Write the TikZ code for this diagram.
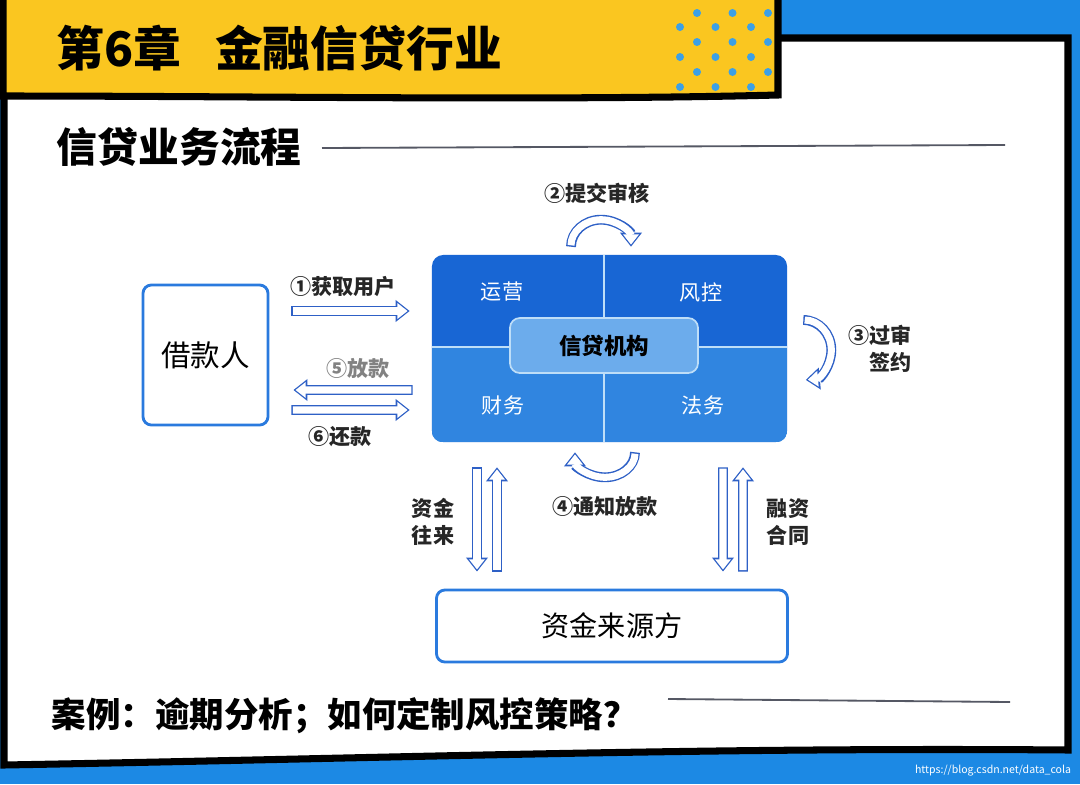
\documentclass[tikz,border=0pt]{standalone}
\usepackage{fontspec}
\setmainfont{Noto Sans CJK SC}
\usetikzlibrary{arrows.meta,positioning,calc}
\definecolor{bgblue}{RGB}{28,137,228}
\definecolor{hdryellow}{RGB}{250,198,32}
\definecolor{dotblue}{RGB}{60,160,230}
\definecolor{topblue}{RGB}{24,102,212}
\definecolor{botblue}{RGB}{48,133,224}
\definecolor{midblue}{RGB}{108,172,236}
\definecolor{midline}{RGB}{190,222,248}
\definecolor{boxblue}{RGB}{42,122,222}
\definecolor{arrowblue}{RGB}{46,96,198}
\definecolor{labelgray}{RGB}{130,130,130}
\definecolor{rulegray}{RGB}{85,88,100}
\begin{document}
\begin{tikzpicture}[x=0.025cm,y=-0.025cm]
	\tikzstyle{box}=[draw=boxblue, line width=2pt, fill=white, rounded corners=6pt]
	\tikzstyle{lbl}=[font=\bfseries\fontsize{15}{19}\selectfont, text=black!85]
	\tikzstyle{quad}=[font=\fontsize{15}{18}\selectfont, text=white]
	\tikzstyle{hollow}=[draw=arrowblue, line width=7pt, -{Triangle[length=10pt,width=15pt]}, postaction={draw=white, line width=5pt, -{Triangle[length=7.2pt,width=10.8pt]}, shorten >=1.5pt, shorten <=1pt}]

	\useasboundingbox (0,0) rectangle (1080,784);
	\fill[bgblue] (0,0) rectangle (1080,784);
	\filldraw[fill=white, draw=black, line width=5pt] (4,90) -- (4,765) .. controls (400,758) and (700,747) .. (1068,750) -- (1068,38) -- (770,38) -- (770,90) -- cycle;
	\filldraw[fill=hdryellow, draw=black, line width=5pt] (3,-10) -- (778,-10) -- (778,95) .. controls (550,101) and (250,96) .. (3,96) -- cycle;
	\foreach \y/\o in {13/697,27/680,42/697,57/680,72/697,87/680}
		\foreach \i in {0,1,2}
			\fill[dotblue] (\o+\i*35.5,\y) circle[radius=4];

	\node[anchor=west, font=\bfseries\fontsize{34}{40}\selectfont] (chap) at (52,48) {第6章\hspace{0.7em}金融信贷行业};
	\node[anchor=west, font=\bfseries\fontsize{29}{34}\selectfont] (sect) at (52,147) {信贷业务流程};
	\draw[rulegray, line width=1.3pt] (322,148) -- (1005,145);

	\node[box, minimum width=3.125cm, minimum height=3.5cm, font=\fontsize{21}{25}\selectfont] (borrower) at (205.5,355) {借款人};
	\node[fill=topblue, rounded corners=8pt, minimum width=8.875cm, minimum height=4.675cm] (org) at (609.5,348.5) {};
	\begin{scope}
		\clip[rounded corners=8pt] (org.north west) rectangle (org.south east);
		\fill[botblue] (432,347) rectangle (org.south east);
	\end{scope}
	\draw[midline, line width=1pt] (604,255) -- (604,442);
	\draw[midline, line width=1pt] (432,347) -- (787,347);
	\node[quad] (ops) at (502,292) {运营};
	\node[quad] (risk) at (701,292) {风控};
	\node[quad] (fin) at (503,405) {财务};
	\node[quad] (legal) at (703,405) {法务};
	\node[fill=midblue, draw=midline, line width=1.2pt, rounded corners=7pt, minimum width=4.7cm, minimum height=1.375cm, font=\bfseries\fontsize{16}{19}\selectfont] (inst) at (604,345.5) {信贷机构};
	\node[box, minimum width=8.775cm, minimum height=1.8cm, font=\fontsize{20}{24}\selectfont] (funder) at (612,626) {资金来源方};

	\draw[hollow] ($(borrower.east)+(22,-44)$) -- ($(org.west)+(-22,-37.5)$);
	\draw[hollow] ($(org.west)+(-19,41.5)$) -- ($(borrower.east)+(24,35)$);
	\draw[hollow] ($(borrower.east)+(22,55)$) -- ($(org.west)+(-22,61.5)$);
	\draw[hollow] ($(org.north)+(-38.5,-8)$) arc[start angle=180, end angle=360, x radius=30, y radius=27];
	\draw[hollow] ($(org.east)+(16,-28.5)$) arc[start angle=-90, end angle=85, x radius=28, y radius=30];
	\draw[hollow] ($(org.south)+(25.5,10)$) arc[start angle=0, end angle=180, x radius=30, y radius=25];
	\draw[hollow] ($(org.south)+(-132.5,25)$) -- ($(funder.north)+(-135,-17)$);
	\draw[hollow] ($(funder.north)+(-115,-17)$) -- ($(org.south)+(-112.5,25)$);
	\draw[hollow] ($(org.south)+(113.5,25)$) -- ($(funder.north)+(111,-17)$);
	\draw[hollow] ($(funder.north)+(131,-17)$) -- ($(org.south)+(133.5,25)$);

	\node[lbl] (get) at (343,287) {①获取用户};
	\node[lbl, text=labelgray] (loan) at (358,368) {⑤放款};
	\node[lbl] (repay) at (340,437) {⑥还款};
	\node[lbl] (submit) at (597,193) {②提交审核};
	\node[lbl, align=right] (sign) at (880,349) {③过审\\签约};
	\node[lbl] (notify) at (605,506) {④通知放款};
	\node[lbl, align=center] (flow) at (433,522) {资金\\往来};
	\node[lbl, align=center] (contract) at (788,522) {融资\\合同};

	\node[anchor=west, font=\bfseries\fontsize{24.5}{29}\selectfont] (case) at (47,716) {案例：逾期分析；如何定制风控策略？};
	\draw[rulegray, line width=1.3pt] (668,699) -- (1010,702);
	\node[anchor=east, text=white, font=\fontsize{7.5}{9}\selectfont] (wm) at (1076,771) {https://blog.csdn.net/data\_cola};
\end{tikzpicture}
\end{document}
